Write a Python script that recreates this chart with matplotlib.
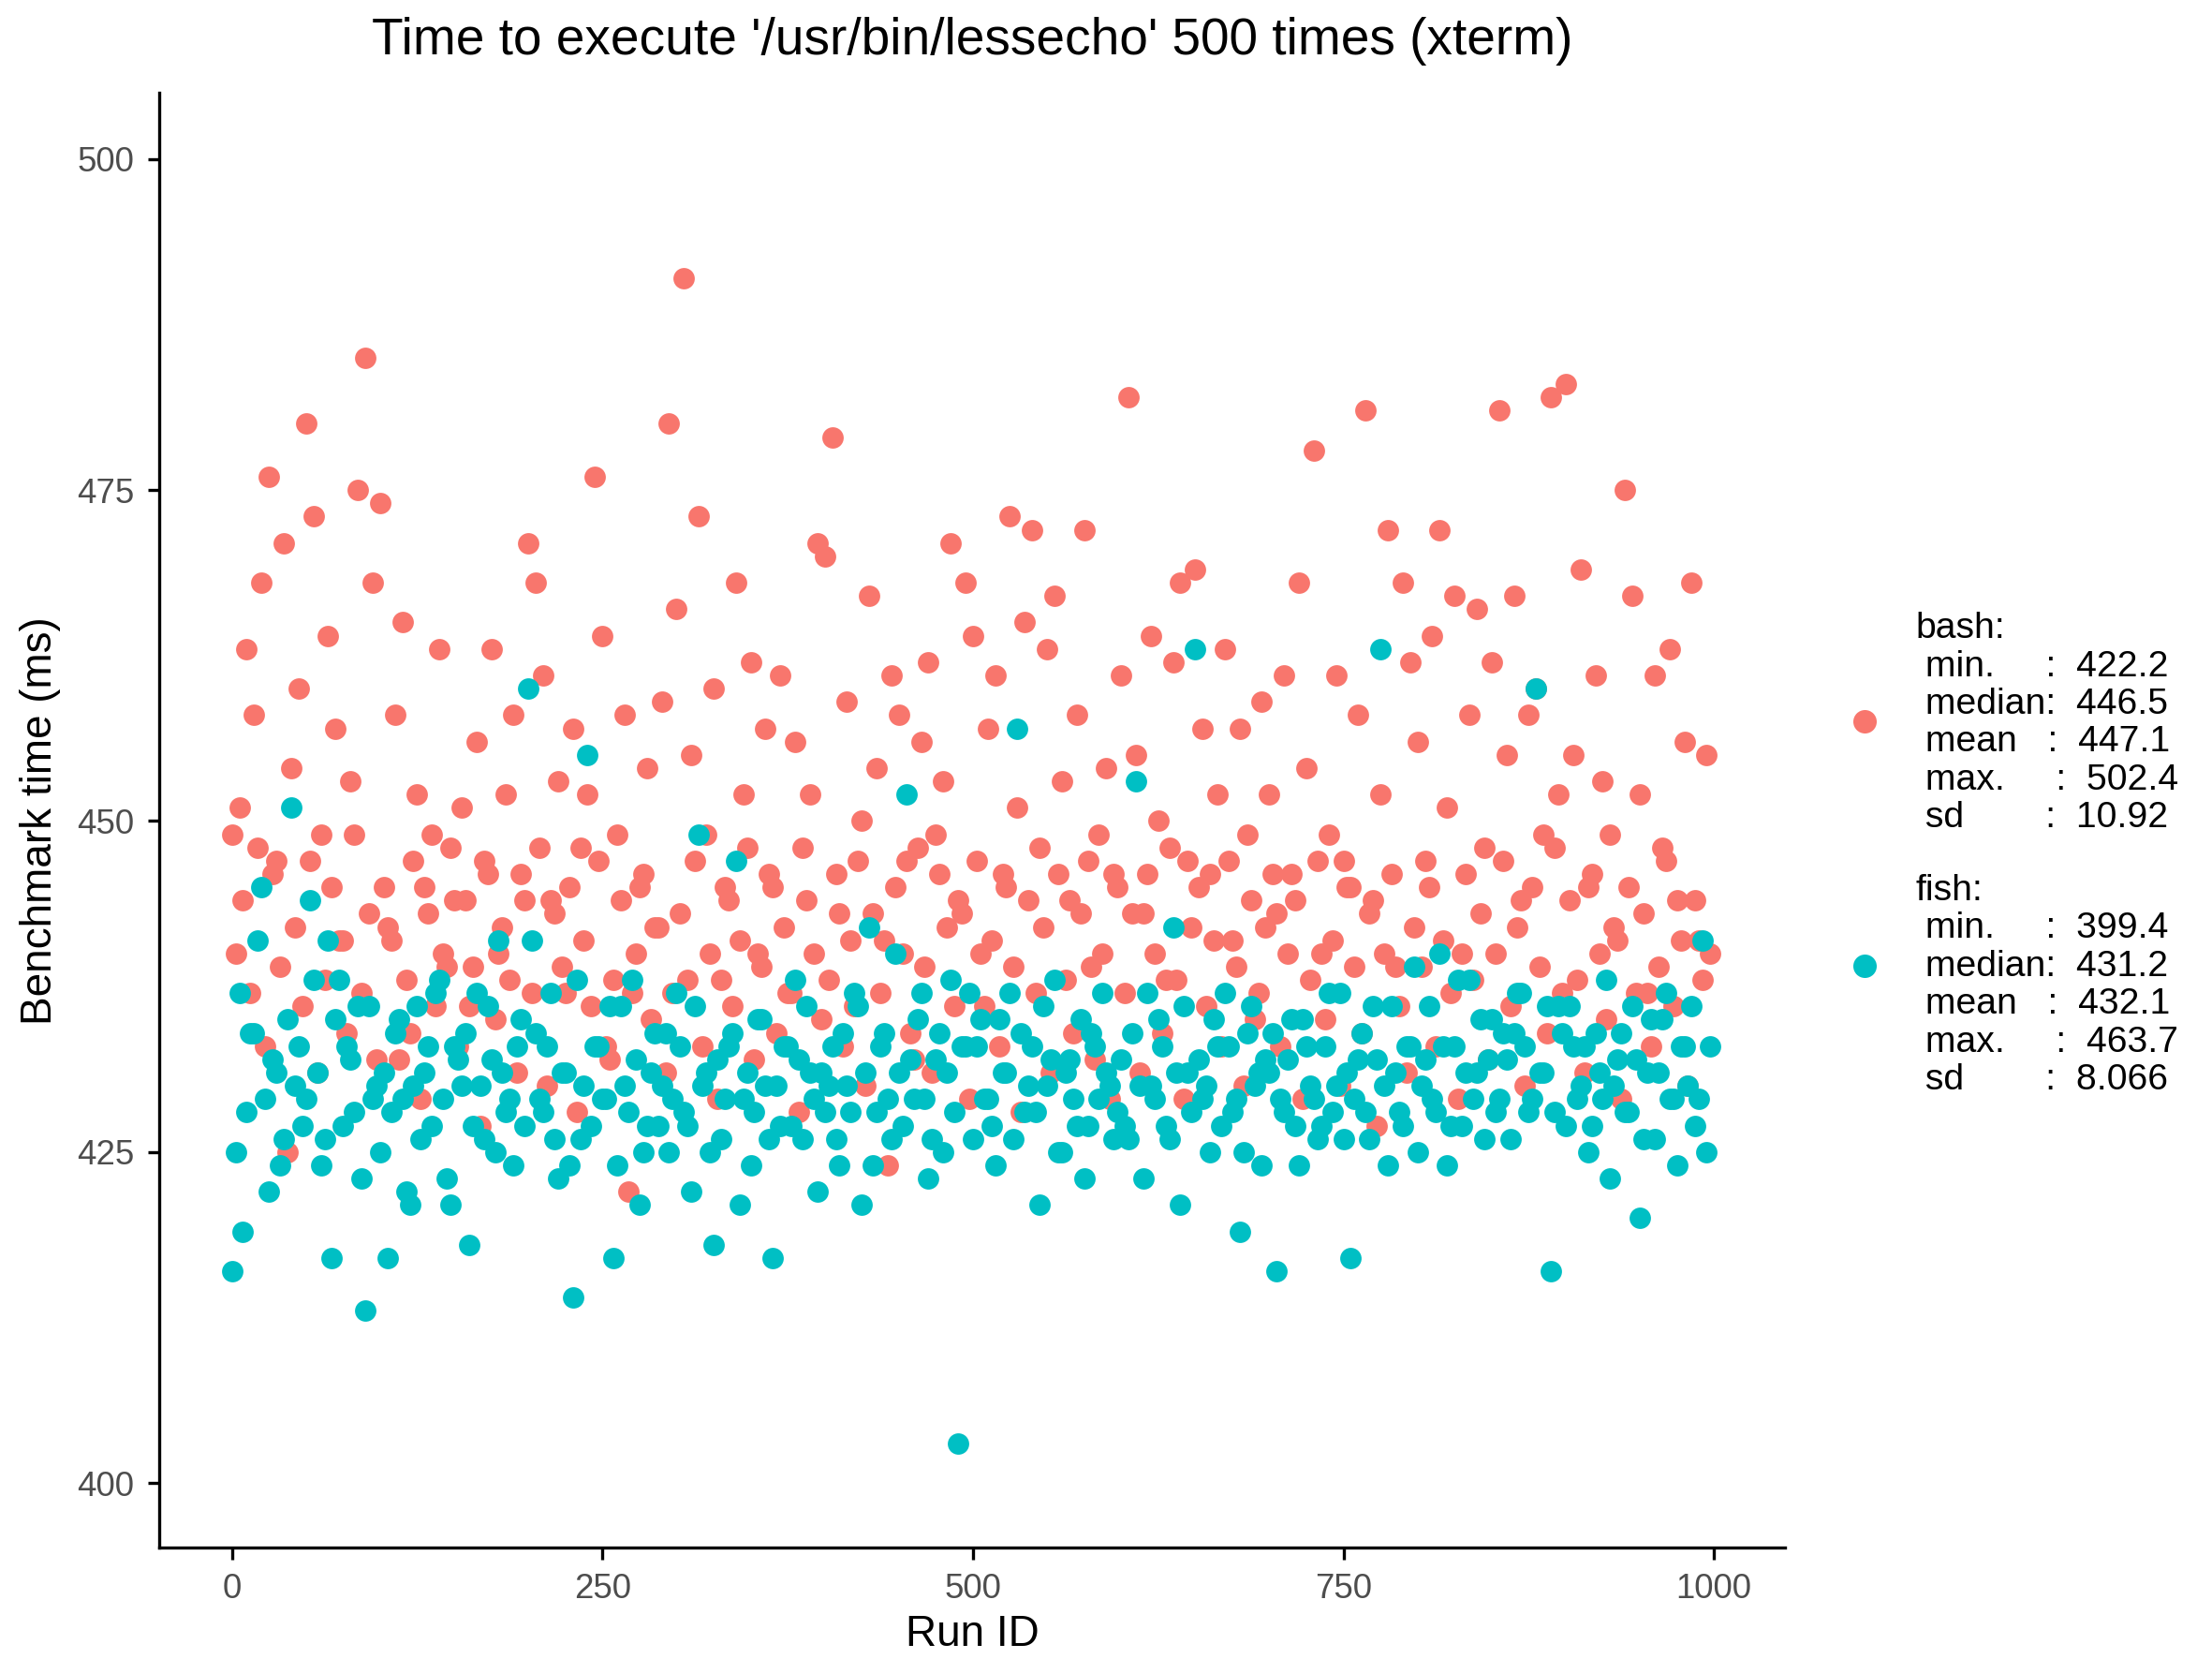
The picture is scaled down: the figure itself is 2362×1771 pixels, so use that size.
import numpy as np
import matplotlib
matplotlib.use("Agg")
import matplotlib.pyplot as plt

plt.rcParams["font.family"] = "Liberation Sans"

bash_a = [449,451,463,458,468,476,447,471,454,460,480,473,449,464,457,441,453,475,485,468,
474,442,458,465,434,452,445,449,463,439,444,451,436,456,447,463,440,452,458,446,
471,468,461,444,453,437,457,448,452,476,464,432,449,458,437,445,454,442,459,480,
466,491,455,473,449,460,438,444,468,452,462,440,457,445,461,437,456,448,452,471,
470,479,443,459,436,450,467,454,441,461,458,447,432,456,462,449,453,471,444,468,
464,440,457,461,446,473,451,465,472,448,463,467,453,444,458,472,439,449,454,446,
461,482,455,443,464,450,438,462,468,447,469,457,446,452,463,441,457,449,435,459,
452,443,461,446,468,454,478,440,449,461,447,445,458,481,444,452,472,439,468,462,
456,447,464,472,451,467,440,458,466,448,462,481,455,467,444,458,460,449,482,452,
483,455,469,445,461,453,449,441,475,467,452,437,461,448,463,444,456,468,441,455]
bash_b = [440,444,437,448,433,446,439,425,442,436,447,431,438,445,441,434,449,437,443,432,
445,441,432,438,447,429,443,436,440,448,433,444,439,427,446,435,442,438,431,444,
437,448,430,443,439,445,428,441,436,447,433,438,444,422,440,446,435,442,431,437,
443,438,447,433,440,429,445,436,441,448,432,439,446,434,442,437,428,444,440,435,
438,446,433,441,447,430,443,437,424,445,440,434,448,439,431,446,442,436,443,429,
447,436,441,433,445,439,428,444,437,442,431,446,438,434,443,447,432,440,429,445,
437,443,431,446,440,434,448,438,429,442,445,436,441,433,447,439,430,444,437,442,
446,433,440,444,429,438,447,435,441,430,445,439,434,443,427,440,446,436,431,442,
439,445,433,441,437,429,446,438,443,432,440,447,436,442,430,445,439,434,448,437,
444,438,431,446,440,435,442,429,445,437,443,433,439,447,436,441,430,444,438,440]
fish_a = [416,437,428,434,445,422,431,426,451,433,429,438,424,441,435,427,432,436,413,429,
425,417,434,429,421,436,431,427,438,423,433,430,418,437,426,432,441,428,424,435,
460,434,428,437,423,431,414,426,455,433,429,436,424,430,438,421,427,434,430,425,
437,428,422,449,431,418,426,433,447,429,424,435,430,417,427,433,438,426,431,422,
428,433,424,430,437,421,442,428,434,426,431,452,429,437,423,432,425,438,403,433,
426,435,429,424,431,437,457,428,433,421,430,438,425,432,427,423,434,429,431,426,
432,426,453,423,430,435,427,442,421,431,463,429,425,433,437,428,419,434,430,424,
431,416,428,435,424,433,429,427,437,430,426,417,432,428,436,463,424,431,427,433,
425,432,429,440,424,433,427,438,431,426,435,429,432,434,437,428,460,431,416,436,
427,433,430,425,434,429,423,432,428,436,420,431,426,435,429,424,433,436,429,425]
fish_b = [425,419,434,441,429,432,424,435,430,427,444,431,426,417,438,433,428,423,436,430,
431,428,435,422,430,426,433,437,429,421,432,434,427,430,436,425,431,429,433,427,
441,429,433,426,431,424,438,430,427,433,429,417,436,428,432,425,431,427,434,429,
433,427,436,430,425,432,429,434,421,431,428,435,426,430,433,427,432,436,429,431,
430,426,434,428,436,431,424,433,429,440,427,432,435,429,426,434,431,428,433,437,
433,429,427,435,431,426,434,430,428,436,432,425,431,429,435,427,433,437,430,428,
427,434,430,437,429,433,426,431,436,428,432,430,435,427,433,429,425,436,431,432,
434,429,432,427,435,430,426,433,428,437,431,429,434,426,432,430,436,428,433,439,
430,436,428,433,427,438,431,429,435,432,428,434,426,437,433,429,431,436,428,434,
436,429,433,427,431,438,430,434,428,432,426,435,431,437,429,433,430,427,441,433]

run_a = np.arange(0, 1000, 5)
run_b = run_a + 2.5

bash_stats = ["bash:", " min.     :  422.2", " median:  446.5", " mean   :  447.1", " max.     :  502.4", " sd        :  10.92"]
fish_stats = ["fish:", " min.     :  399.4", " median:  431.2", " mean   :  432.1", " max.     :  463.7", " sd        :  8.066"]

RED, CYAN = "#F8766D", "#00BFC4"

fig = plt.figure(figsize=(2362/300, 1771/300), dpi=300)
ax = fig.add_axes([0.072, 0.067, 0.735, 0.877])
kw = dict(s=30, linewidths=0)
ax.scatter(run_a, bash_a, color=RED, **kw)
ax.scatter(run_b, bash_b, color=RED, **kw)
ax.scatter(run_a, fish_a, color=CYAN, **kw)
ax.scatter(run_b, fish_b, color=CYAN, **kw)
ax.set_xlim(-49, 1048)
ax.set_ylim(395.1, 505)
ax.set_xticks([0, 250, 500, 750, 1000])
ax.set_yticks([400, 425, 450, 475, 500])
for s in ["top", "right"]:
    ax.spines[s].set_visible(False)
ax.tick_params(labelsize=8.8, colors="#4D4D4D", length=3)
ax.tick_params(axis="both", color="black")
ax.set_xlabel("Run ID", fontsize=11, labelpad=2)
ax.set_ylabel("Benchmark time (ms)", fontsize=11)
ax.set_title("Time to execute '/usr/bin/lessecho' 500 times (xterm)", fontsize=13.2, pad=10)

def block(lines, y0, ym, color):
    for i, t in enumerate(lines):
        fig.text(0.866, y0 - i*0.0228, t, fontsize=9.4, va="center", ha="left")
    fig.add_artist(plt.Line2D([0.843], [ym], marker="o", color=color,
                              markersize=5, linestyle="none", transform=fig.transFigure))

block(bash_stats, 0.621, 0.565, RED)
block(fish_stats, 0.463, 0.418, CYAN)

fig.savefig("out.png", dpi=300)
